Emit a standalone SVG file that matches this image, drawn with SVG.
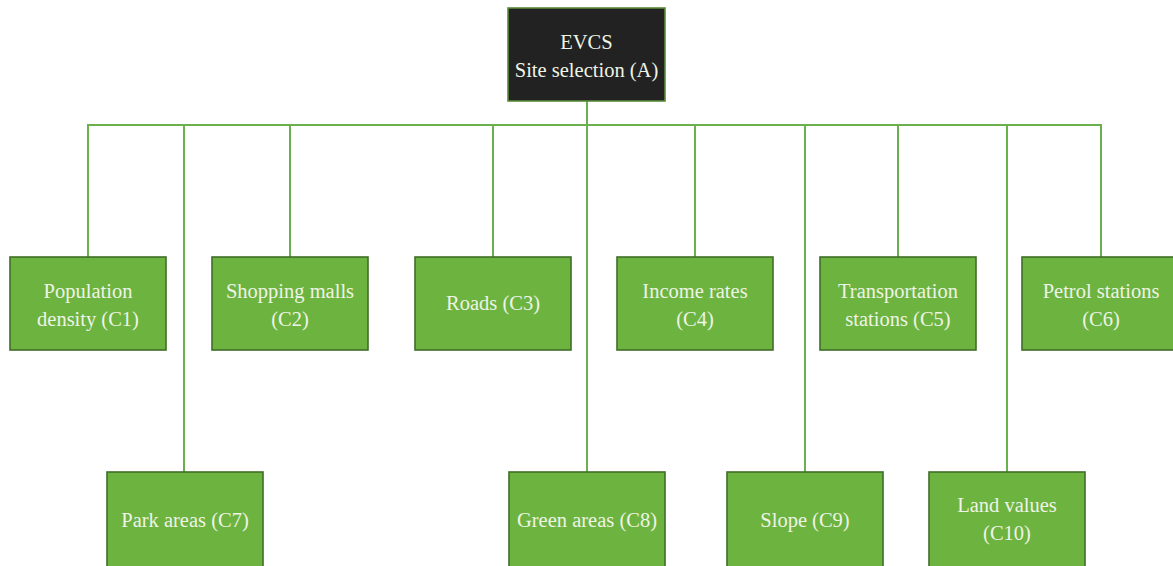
<svg xmlns="http://www.w3.org/2000/svg" width="1173" height="566" viewBox="0 0 1173 566">
<style>
.box{fill:#6db33f;stroke:#3f6e27;stroke-width:1.6}
.root{fill:#222222;stroke:#5a8a3a;stroke-width:1.6}
.lbl{font-family:"Liberation Serif",serif;font-size:20.5px;fill:#eef4e6;text-anchor:middle}
.conn{fill:none;stroke:#6ab04c;stroke-width:2}
</style>
<rect width="1173" height="566" fill="#ffffff"/>
<g id="connectors" class="conn">
<path d="M587,101 V125"/>
<path d="M88,257 V125 H1101 V257"/>
<path d="M184,125 V472"/>
<path d="M290,125 V257"/>
<path d="M493,125 V257"/>
<path d="M587,125 V472"/>
<path d="M695,125 V257"/>
<path d="M805,125 V472"/>
<path d="M898,125 V257"/>
<path d="M1007,125 V472"/>
</g>
<g id="A"><rect class="root" x="508" y="8" width="157" height="93"/><text class="lbl" x="586.5" y="49">EVCS</text><text class="lbl" x="586.5" y="77">Site selection (A)</text></g>
<g id="C1"><rect class="box" x="10" y="257" width="156" height="93"/><text class="lbl" x="88" y="298">Population</text><text class="lbl" x="88" y="326">density (C1)</text></g>
<g id="C2"><rect class="box" x="212" y="257" width="156" height="93"/><text class="lbl" x="290" y="298">Shopping malls</text><text class="lbl" x="290" y="326">(C2)</text></g>
<g id="C3"><rect class="box" x="415" y="257" width="156" height="93"/><text class="lbl" x="493" y="310">Roads (C3)</text></g>
<g id="C4"><rect class="box" x="617" y="257" width="156" height="93"/><text class="lbl" x="695" y="298">Income rates</text><text class="lbl" x="695" y="326">(C4)</text></g>
<g id="C5"><rect class="box" x="820" y="257" width="156" height="93"/><text class="lbl" x="898" y="298">Transportation</text><text class="lbl" x="898" y="326">stations (C5)</text></g>
<g id="C6"><rect class="box" x="1022" y="257" width="158" height="93"/><text class="lbl" x="1101" y="298">Petrol stations</text><text class="lbl" x="1101" y="326">(C6)</text></g>
<g id="C7"><rect class="box" x="107" y="472" width="156" height="100"/><text class="lbl" x="185" y="527">Park areas (C7)</text></g>
<g id="C8"><rect class="box" x="509" y="472" width="156" height="100"/><text class="lbl" x="587" y="527">Green areas (C8)</text></g>
<g id="C9"><rect class="box" x="727" y="472" width="156" height="100"/><text class="lbl" x="805" y="527">Slope (C9)</text></g>
<g id="C10"><rect class="box" x="929" y="472" width="156" height="100"/><text class="lbl" x="1007" y="512">Land values</text><text class="lbl" x="1007" y="540">(C10)</text></g>
</svg>
